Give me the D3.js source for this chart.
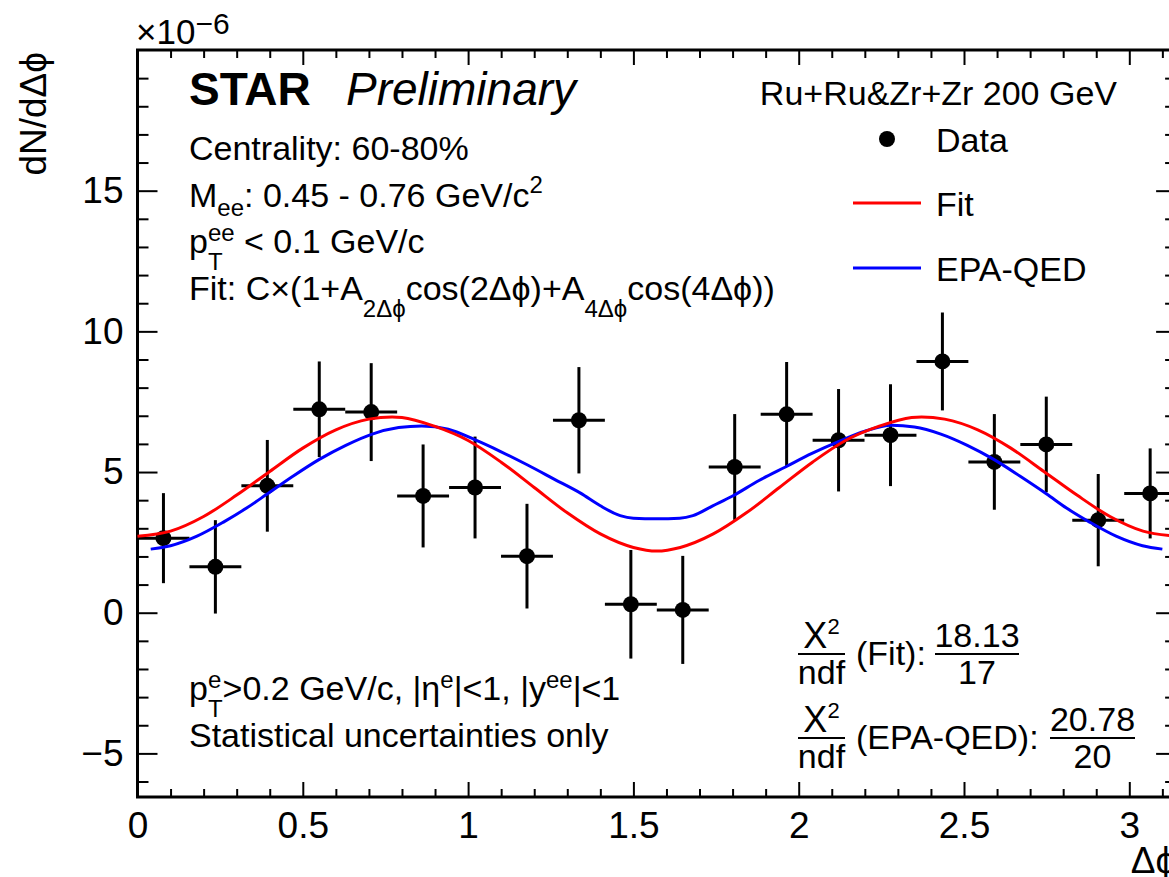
<!DOCTYPE html>
<html><head><meta charset="utf-8">
<script src="https://cdn.jsdelivr.net/npm/d3@7"></script>
<style>
body{margin:0;background:#fff}
svg{display:block}
text{font-family:"Liberation Sans",Arial,Helvetica,"DejaVu Sans",sans-serif;fill:#000;white-space:pre}
</style>
</head><body>
<svg id="c" width="1169" height="877"></svg>
<script>
// ---- data ----
const binCenters = [0.0785,0.2356,0.3927,0.5498,0.7069,0.8639,1.0210,1.1781,1.3352,1.4923,1.6493,1.8064,1.9635,2.1206,2.2777,2.4347,2.5918,2.7489,2.9060,3.0631];
const binHalfWidth = 0.0785;
const dataY   = [2.65,1.63,4.51,7.23,7.13,4.15,4.45,2.01,6.84,0.30,0.10,5.18,7.05,6.13,6.31,8.93,5.36,5.98,3.29,4.24];
const dataErr = [1.60,1.66,1.63,1.70,1.74,1.83,1.81,1.86,1.89,1.93,1.92,1.88,1.86,1.82,1.81,1.74,1.70,1.70,1.64,1.60];

const fitX = [0,0.1,0.2,0.3,0.4,0.5,0.6,0.7,0.77,0.8,0.9,1.0,1.1,1.2,1.3,1.4,1.5,1.5708,1.6416,1.7416,1.8416,1.9416,2.0416,2.1416,2.2416,2.3416,2.3716,2.4416,2.5416,2.6416,2.7416,2.8416,2.9416,3.0416,3.1416];
const fitY = [2.72,2.90,3.42,4.18,5.02,5.85,6.50,6.88,6.96,6.94,6.62,6.12,5.35,4.45,3.55,2.80,2.32,2.19,2.32,2.80,3.55,4.45,5.35,6.12,6.62,6.94,6.96,6.88,6.50,5.85,5.02,4.18,3.42,2.90,2.72];

const epaX = [0.04,0.10,0.18,0.26,0.33,0.39,0.47,0.55,0.63,0.71,0.79,0.86,0.94,1.02,1.10,1.18,1.26,1.34,1.40,1.46,1.50,1.57,1.64,1.68,1.74,1.80,1.88,1.96,2.04,2.12,2.20,2.28,2.35,2.43,2.51,2.59,2.67,2.75,2.81,2.88,2.96,3.04,3.10];
const epaY = [2.26,2.38,2.72,3.22,3.72,4.20,4.85,5.45,5.95,6.35,6.58,6.64,6.52,6.15,5.72,5.25,4.75,4.25,3.80,3.45,3.36,3.34,3.36,3.45,3.80,4.15,4.70,5.18,5.66,6.08,6.45,6.66,6.60,6.35,5.95,5.45,4.85,4.22,3.72,3.22,2.72,2.38,2.26];

const xMajor = [0,0.5,1,1.5,2,2.5,3];
const xMinor = [0.1,0.2,0.3,0.4,0.6,0.7,0.8,0.9,1.1,1.2,1.3,1.4,1.6,1.7,1.8,1.9,2.1,2.2,2.3,2.4,2.6,2.7,2.8,2.9,3.1];
const yMajor = [-5,0,5,10,15];
const yMinor = [-6,-4,-3,-2,-1,1,2,3,4,6,7,8,9,11,12,13,14,16,17,18,19];

const legendLabels = ["Data","Fit","EPA-QED"];
const chi2Fit = ["18.13","17"];
const chi2Epa = ["20.78","20"];

// ---- layout ----
const svg = d3.select("#c");
const L = 137.5, R = 137.5 + Math.PI*330.6, T = 50, B = 797;
const x = d3.scaleLinear().domain([0, Math.PI]).range([L, R]);
const y = d3.scaleLinear().domain([-6.55, 20]).range([B, T]);
const TF = 37;
const PHI = "\u03D5";

function styleAxis(g){
  g.select(".domain").remove();
  g.selectAll(".tick line").attr("stroke","#000").attr("stroke-width",2);
  g.selectAll(".tick text").attr("font-size",TF).attr("font-family",'"Liberation Sans",Arial,sans-serif').attr("fill","#000");
}
// bottom
svg.append("g").attr("transform",`translate(0,${B})`)
  .call(d3.axisBottom(x).tickValues(xMajor).tickSize(-15).tickPadding(15).tickFormat(d=>String(d))).call(styleAxis);
svg.append("g").attr("transform",`translate(0,${B})`)
  .call(d3.axisBottom(x).tickValues(xMinor).tickSize(-8).tickFormat("")).call(styleAxis);
// top
svg.append("g").attr("transform",`translate(0,${T})`)
  .call(d3.axisTop(x).tickValues(xMajor).tickSize(-15).tickFormat("")).call(styleAxis);
svg.append("g").attr("transform",`translate(0,${T})`)
  .call(d3.axisTop(x).tickValues(xMinor).tickSize(-8).tickFormat("")).call(styleAxis);
// left
svg.append("g").attr("transform",`translate(${L},0)`)
  .call(d3.axisLeft(y).tickValues(yMajor).tickSize(-20).tickPadding(14).tickFormat(d3.format("d"))).call(styleAxis);
svg.append("g").attr("transform",`translate(${L},0)`)
  .call(d3.axisLeft(y).tickValues(yMinor).tickSize(-11).tickFormat("")).call(styleAxis);
// right
svg.append("g").attr("transform",`translate(${R},0)`)
  .call(d3.axisRight(y).tickValues(yMajor).tickSize(-20).tickFormat("")).call(styleAxis);
svg.append("g").attr("transform",`translate(${R},0)`)
  .call(d3.axisRight(y).tickValues(yMinor).tickSize(-11).tickFormat("")).call(styleAxis);

// frame
svg.append("rect").attr("x",L).attr("y",T).attr("width",R-L).attr("height",B-T)
  .attr("fill","none").attr("stroke","#000").attr("stroke-width",3);

// data points
const pts = binCenters.map((c,i)=>({x:c,y:dataY[i],e:dataErr[i]}));
const dg = svg.append("g");
dg.selectAll("line.v").data(pts).join("line").attr("class","v")
  .attr("x1",d=>x(d.x)).attr("x2",d=>x(d.x)).attr("y1",d=>y(d.y-d.e)).attr("y2",d=>y(d.y+d.e))
  .attr("stroke","#000").attr("stroke-width",3);
dg.selectAll("line.h").data(pts).join("line").attr("class","h")
  .attr("x1",d=>x(d.x-binHalfWidth)).attr("x2",d=>x(d.x+binHalfWidth)).attr("y1",d=>y(d.y)).attr("y2",d=>y(d.y))
  .attr("stroke","#000").attr("stroke-width",3);
dg.selectAll("circle").data(pts).join("circle")
  .attr("cx",d=>x(d.x)).attr("cy",d=>y(d.y)).attr("r",8).attr("fill","#000");

// curves
const line = d3.line().x(d=>x(d[0])).y(d=>y(d[1])).curve(d3.curveMonotoneX);
svg.append("path").datum(epaX.map((v,i)=>[v,epaY[i]])).attr("d",line)
  .attr("fill","none").attr("stroke","#0000ff").attr("stroke-width",3);
svg.append("path").datum(fitX.map((v,i)=>[v,fitY[i]])).attr("d",line)
  .attr("fill","none").attr("stroke","#ff0000").attr("stroke-width",3);

// rich text helper
function rich(g, x0, y0, parts){
  let cx = x0, prevX = x0;
  parts.forEach(p=>{
    const sx = (p.at!==undefined) ? x0+p.at : (p.stack ? prevX : cx);
    const t = g.append("text").attr("x",sx).attr("y",y0+(p.dy||0)).attr("font-size",p.s).text(p.t);
    if(p.it) t.attr("font-style","italic");
    if(p.bold) t.attr("font-weight","bold");
    if(p.serif) t.attr("font-family",'"Liberation Serif","Times New Roman",serif');
    const w = t.node().getComputedTextLength();
    if(p.stack){ cx = Math.max(cx, sx+w); } else { prevX = sx; cx = sx+w; }
  });
  return cx - x0;
}
function centered(cxPos, y0, parts){
  const g = svg.append("g");
  const w = rich(g, 0, y0, parts);
  g.attr("transform",`translate(${cxPos - w/2},0)`);
}

// axis titles
svg.append("text").attr("transform","translate(46,52) rotate(-90)").attr("text-anchor","end")
  .attr("font-size",37).text("dN/dΔ"+PHI);
rich(svg, 136, 44, [{t:"×10",s:35},{t:"−6",s:30,dy:-10}]);
svg.append("text").attr("x",R).attr("y",873).attr("text-anchor","end").attr("font-size",37).text("Δ"+PHI);

// top-left labels
rich(svg, 189, 105, [{t:"STAR",s:46,bold:true},{t:"Preliminary",s:46,it:true,at:157}]);
const S = 34, SS = 24;
rich(svg, 189, 160, [{t:"Centrality: 60-80%",s:S}]);
rich(svg, 189, 207, [{t:"M",s:S},{t:"ee",s:SS,dy:9},{t:": 0.45 - 0.76 GeV/c",s:S},{t:"2",s:SS,dy:-14}]);
rich(svg, 189, 253, [{t:"p",s:S},{t:"T",s:SS,dy:17},{t:"ee",s:SS,dy:-12,stack:true},{t:" < 0.1 GeV/c",s:S}]);
rich(svg, 189, 300, [{t:"Fit: C×(1+A",s:S},{t:"2Δ"+PHI,s:SS,dy:17},{t:"cos(2Δ"+PHI+")+A",s:S},{t:"4Δ"+PHI,s:SS,dy:17},{t:"cos(4Δ"+PHI+"))",s:S}]);

// bottom-left labels
rich(svg, 189, 700, [{t:"p",s:S},{t:"T",s:SS,dy:17},{t:"e",s:SS,dy:-12,stack:true},{t:">0.2 GeV/c, |η",s:S},{t:"e",s:SS,dy:-12},{t:"|<1, |y",s:S},{t:"ee",s:SS,dy:-12},{t:"|<1",s:S}]);
rich(svg, 189, 747, [{t:"Statistical uncertainties only",s:S}]);

// top-right header & legend
svg.append("text").attr("x",1117).attr("y",105).attr("text-anchor","end").attr("font-size",S).text("Ru+Ru&Zr+Zr 200 GeV");
svg.append("circle").attr("cx",887).attr("cy",139).attr("r",8).attr("fill","#000");
svg.append("line").attr("x1",853).attr("x2",921).attr("y1",203).attr("y2",203).attr("stroke","#ff0000").attr("stroke-width",3);
svg.append("line").attr("x1",853).attr("x2",921).attr("y1",268).attr("y2",268).attr("stroke","#0000ff").attr("stroke-width",3);
[152,216,281].forEach((yy,i)=>svg.append("text").attr("x",936).attr("y",yy).attr("font-size",S).text(legendLabels[i]));

// chi2 fractions
function fracBar(x1,x2,yy){ svg.append("line").attr("x1",x1).attr("x2",x2).attr("y1",yy).attr("y2",yy).attr("stroke","#000").attr("stroke-width",2); }
function chiRow(yBar, label, nums, fx1, fx2){
  fracBar(798,845,yBar);
  centered(821.5, yBar-6, [{t:"Χ",s:36,serif:true},{t:"2",s:22,dy:-14}]);
  centered(821.5, yBar+30, [{t:"ndf",s:S}]);
  svg.append("text").attr("x",856).attr("y",yBar+11).attr("font-size",S).text(label);
  fracBar(fx1,fx2,yBar);
  svg.append("text").attr("x",(fx1+fx2)/2).attr("y",yBar-7).attr("text-anchor","middle").attr("font-size",S).text(nums[0]);
  svg.append("text").attr("x",(fx1+fx2)/2).attr("y",yBar+30).attr("text-anchor","middle").attr("font-size",S).text(nums[1]);
}
chiRow(654, "(Fit):", chi2Fit, 935, 1019);
chiRow(738, "(EPA-QED):", chi2Epa, 1050, 1135);
</script>
</body></html>
